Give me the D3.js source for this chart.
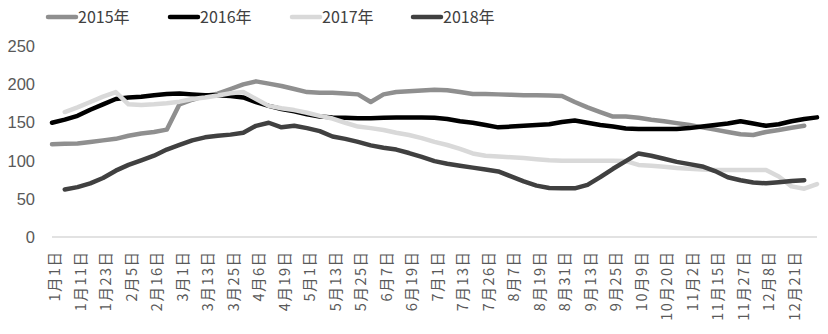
<!DOCTYPE html>
<html><head><meta charset="utf-8">
<script src="https://cdn.jsdelivr.net/npm/d3@7/dist/d3.min.js"></script>
<style>
body{margin:0;background:#fff;}
svg{display:block;}
</style></head><body>
<svg id="chart" width="828" height="334"></svg>
<script>
const tickLabels = ["1月1日","1月11日","1月23日","2月5日","2月16日","3月1日","3月13日","3月25日","4月6日","4月19日","5月1日","5月13日","5月25日","6月7日","6月19日","7月1日","7月13日","7月26日","8月7日","8月19日","8月31日","9月13日","9月25日","10月9日","10月20日","11月2日","11月15日","11月27日","12月8日","12月21日"];
const seriesNames = ["2015年","2016年","2017年","2018年"];
const yTicks = [0,50,100,150,200,250];
const s2015 = [121,121.5,122,124,126,128,132,135,137,140,173,179,184,187,193,199,203,200,197,193,189,188,188,187,186,176,186,189,190,191,192,191.5,189,186.5,186.5,186,185.5,185,185,184.5,184,176,169,163,157,157,155.5,153,151,148.5,146,143,140,137,134,133,137,139.5,142.5,145,null];
const s2016 = [149,153,158,166,173,180,182,183,185,186.5,187,186,185,185,184,182,176,171,167,164,160,157,156,155.5,155,155,155.5,156,156,156,155.5,154,151,149,146,143,144,145,146,147,150,152,149,146,144,141.5,141,141,141,141,142,144,146,148,151,148,145,147,151,154,156];
const s2017 = [null,163,169,176,183,189,173,172,173,174.5,176.5,180,182,184.5,187.5,189,180,171,168,165.5,162,158,154.5,149,144,142,139.5,136,133,129,124,120,115,109,106,105,104,103,101.5,100,99.5,99.5,99.5,99.5,99.5,99,94,93,91.5,90,89,88,87.5,87.5,87.5,87.5,87.5,79,66,63,69];
const s2018 = [null,62,65,70,77,86.5,94,100,106,114,120,126,130,132,133.5,136,145,149,143,145,142,138,131,128,124,119.5,116.5,114,109.5,104.5,99,95.5,93,90.5,88,85.5,79,72.5,67,64,63.5,63.5,68,78,89,99,109,106,102,98,95,92,86,78,74,71,70,71.5,73,74,null];
const colors = ["#8f8f8f","#000000","#d9d9d9","#404040"];
const allSeries = [s2015,s2016,s2017,s2018];

const svg = d3.select("#chart");
const nPts = s2016.length;
const x = d3.scaleLinear().domain([0, nPts-1]).range([52, 817]);
const y = d3.scaleLinear().domain([0,250]).range([237, 45.3]);

// baseline
svg.append("line").attr("x1",52).attr("x2",817).attr("y1",y(0)).attr("y2",y(0))
  .attr("stroke","#d9d9d9").attr("stroke-width",1.5);

// y axis labels
const yAxis = d3.axisLeft(y).tickValues(yTicks).tickSize(0).tickPadding(0);
const gy = svg.append("g").attr("transform","translate(35,0)").call(yAxis);
gy.select(".domain").remove();
gy.selectAll("text").attr("fill","#595959").style("font-family","'Liberation Sans',Arial,sans-serif").style("font-size","16.5px").attr("dy","0.35em");

// x labels
const labelIdx = tickLabels.map((d,i)=>i*2);
const gx = svg.append("g");
gx.selectAll("text").data(tickLabels).join("text")
  .attr("transform",(d,i)=>`translate(${x(labelIdx[i])+8},250.5) rotate(-90)`)
  .attr("text-anchor","end")
  .attr("fill","#595959")
  .style("font-family","'Noto Sans CJK SC',sans-serif")
  .style("font-size","14.5px")
  .style("letter-spacing","1.5px")
  .text(d=>d);

// lines
allSeries.forEach((s,k)=>{
  svg.append("path").datum(s).attr("d", d3.line().defined(d=>d!=null).x((d,i)=>x(i)).y(d=>y(d==null?0:d)))
    .attr("fill","none").attr("stroke",colors[k]).attr("stroke-width",4.5)
    .attr("stroke-linejoin","round").attr("stroke-linecap","round");
});

// legend
const legX = [48,170,292,413];
const lg = svg.append("g");
seriesNames.forEach((n,k)=>{
  lg.append("line").attr("x1",legX[k]).attr("x2",legX[k]+28).attr("y1",17).attr("y2",17)
    .attr("stroke",colors[k]).attr("stroke-width",4.5).attr("stroke-linecap","round");
  lg.append("text").attr("x",legX[k]+30).attr("y",17).attr("dy","0.35em")
    .attr("fill","#404040").style("font-family","'Liberation Sans Narrow','Noto Sans CJK SC',sans-serif")
    .style("font-size","16px").text(n);
});
</script>
</body></html>
